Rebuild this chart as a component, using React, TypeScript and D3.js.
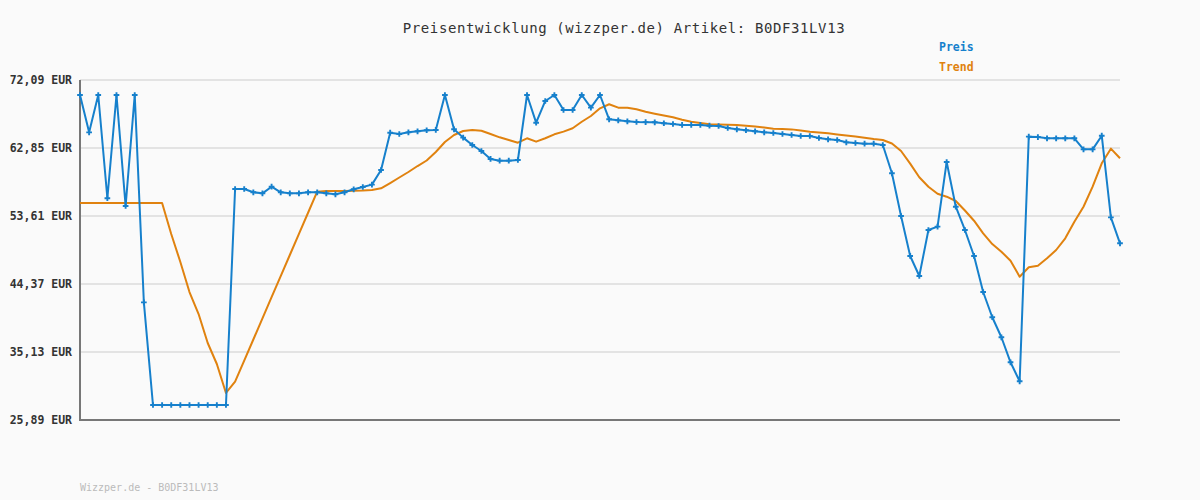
import React from "react";
import * as d3 from "d3";

const title = "Preisentwicklung (wizzper.de) Artikel: B0DF31LV13";
const footer = "Wizzper.de - B0DF31LV13";
const seriesNames = ["Preis", "Trend"];
const yTicks = [25.89, 35.13, 44.37, 53.61, 62.85, 72.09];

const preis = [
  70.05, 64.98, 70.05, 56.02, 70.05, 54.97, 70.05, 41.88, 27.93, 27.93,
  27.93, 27.93, 27.93, 27.93, 27.93, 27.93, 27.93, 57.28, 57.28, 56.83,
  56.69, 57.59, 56.83, 56.69, 56.69, 56.83, 56.83, 56.69, 56.56, 56.83,
  57.24, 57.55, 57.87, 59.86, 64.93, 64.75, 64.98, 65.12, 65.26, 65.3,
  70.05, 65.39, 64.26, 63.26, 62.44, 61.36, 61.13, 61.13, 61.22, 70.05,
  66.29, 69.24, 70.05, 68.01, 68.01, 70.05, 68.33, 70.05, 66.75, 66.61,
  66.48, 66.38, 66.36, 66.34, 66.21, 66.11, 65.98, 65.98, 65.98, 65.88,
  65.84, 65.57, 65.39, 65.26, 65.12, 64.98, 64.89, 64.75, 64.62, 64.48,
  64.48, 64.21, 64.03, 63.94, 63.62, 63.53, 63.44, 63.44, 63.26, 59.41,
  53.61, 48.18, 45.46, 51.71, 52.16, 60.95, 54.87, 51.71, 48.18, 43.28,
  39.85, 37.13, 33.73, 31.15, 64.39, 64.34, 64.17, 64.17, 64.17, 64.17,
  62.67, 62.67, 64.52, 53.43, 49.9,
];

const trend = [
  55.38, 55.38, 55.38, 55.38, 55.38, 55.38, 55.38, 55.38, 55.38, 55.38,
  51.17, 47.36, 43.28, 40.29, 36.35, 33.5, 29.56, 31.1, 33.96, 36.83,
  39.71, 42.58, 45.44, 48.31, 51.18, 54.05, 56.91, 57.01, 57.01, 57.01,
  57.05, 57.08, 57.14, 57.37, 58.09, 58.84, 59.59, 60.4, 61.15, 62.31,
  63.67, 64.62, 65.16, 65.3, 65.2, 64.75, 64.3, 63.94, 63.57, 64.17,
  63.71, 64.17, 64.71, 65.07, 65.53, 66.42, 67.2, 68.24, 68.79, 68.33,
  68.33, 68.11, 67.77, 67.51, 67.27, 67.02, 66.7, 66.42, 66.25, 66.08,
  66.04, 66.02, 65.98, 65.87, 65.76, 65.62, 65.47, 65.43, 65.38, 65.23,
  65.07, 64.96, 64.85, 64.7, 64.54, 64.4, 64.25, 64.07, 63.94, 63.46,
  62.44, 60.72, 58.87, 57.59, 56.64, 56.23, 55.65, 54.36, 52.97, 51.26,
  49.8, 48.76, 47.53, 45.36, 46.64, 46.86, 47.86, 48.99, 50.58, 52.84,
  54.87, 57.59, 60.77, 62.76, 61.45,
];

const W = 1200;
const H = 500;
const M = { left: 80, right: 1120, top: 80, bottom: 420 };
const BLUE = "#1680cc";
const ORANGE = "#e0820f";
const MONO = "'DejaVu Sans Mono', 'Liberation Mono', monospace";

export default function App() {
  const x = d3.scaleLinear().domain([0, preis.length - 1]).range([M.left, M.right]);
  const y = d3.scaleLinear().domain([yTicks[0], yTicks[yTicks.length - 1]]).range([M.bottom, M.top]);
  const line = d3
    .line<number>()
    .x((_, i) => x(i))
    .y((d) => y(d));
  const cross = d3.symbol().type(d3.symbolCross).size(18)();
  const fmt = (v: number) => v.toFixed(2).replace(".", ",") + " EUR";

  return (
    <svg
      width={W}
      height={H}
      style={{ position: "absolute", left: 0, top: 0, background: "#fafafa" }}
    >
      <rect x={0} y={0} width={W} height={H} fill="#fafafa" />
      <text
        x={624}
        y={33}
        textAnchor="middle"
        fontFamily={MONO}
        fontSize={14}
        letterSpacing={0.6}
        fill="#333"
      >
        {title}
      </text>
      <text x={939} y={51} fontFamily={MONO} fontSize={11.5} fontWeight="bold" fill={BLUE}>
        {seriesNames[0]}
      </text>
      <text x={939} y={71} fontFamily={MONO} fontSize={11.5} fontWeight="bold" fill={ORANGE}>
        {seriesNames[1]}
      </text>
      {yTicks.map((t) => (
        <g key={t}>
          <line x1={M.left} x2={M.right} y1={y(t)} y2={y(t)} stroke="#e3e3e3" strokeWidth={2} />
          <text
            x={72}
            y={y(t)}
            dy="0.35em"
            textAnchor="end"
            fontFamily={MONO}
            fontSize={11.5}
            fontWeight="bold"
            fill="#333"
          >
            {fmt(t)}
          </text>
        </g>
      ))}
      <line x1={M.left} x2={M.left} y1={M.top} y2={M.bottom + 1} stroke="#777" strokeWidth={2} />
      <line x1={M.left - 1} x2={M.right} y1={M.bottom} y2={M.bottom} stroke="#777" strokeWidth={2} />
      <path d={line(trend) || ""} fill="none" stroke={ORANGE} strokeWidth={2} strokeLinejoin="round" />
      <path d={line(preis) || ""} fill="none" stroke={BLUE} strokeWidth={2} strokeLinejoin="round" />
      {preis.map((v, i) => (
        <path key={i} d={cross || ""} transform={`translate(${x(i)},${y(v)})`} fill={BLUE} />
      ))}
      <text x={80} y={491} fontFamily={MONO} fontSize={10} fill="#bbb">
        {footer}
      </text>
    </svg>
  );
}
